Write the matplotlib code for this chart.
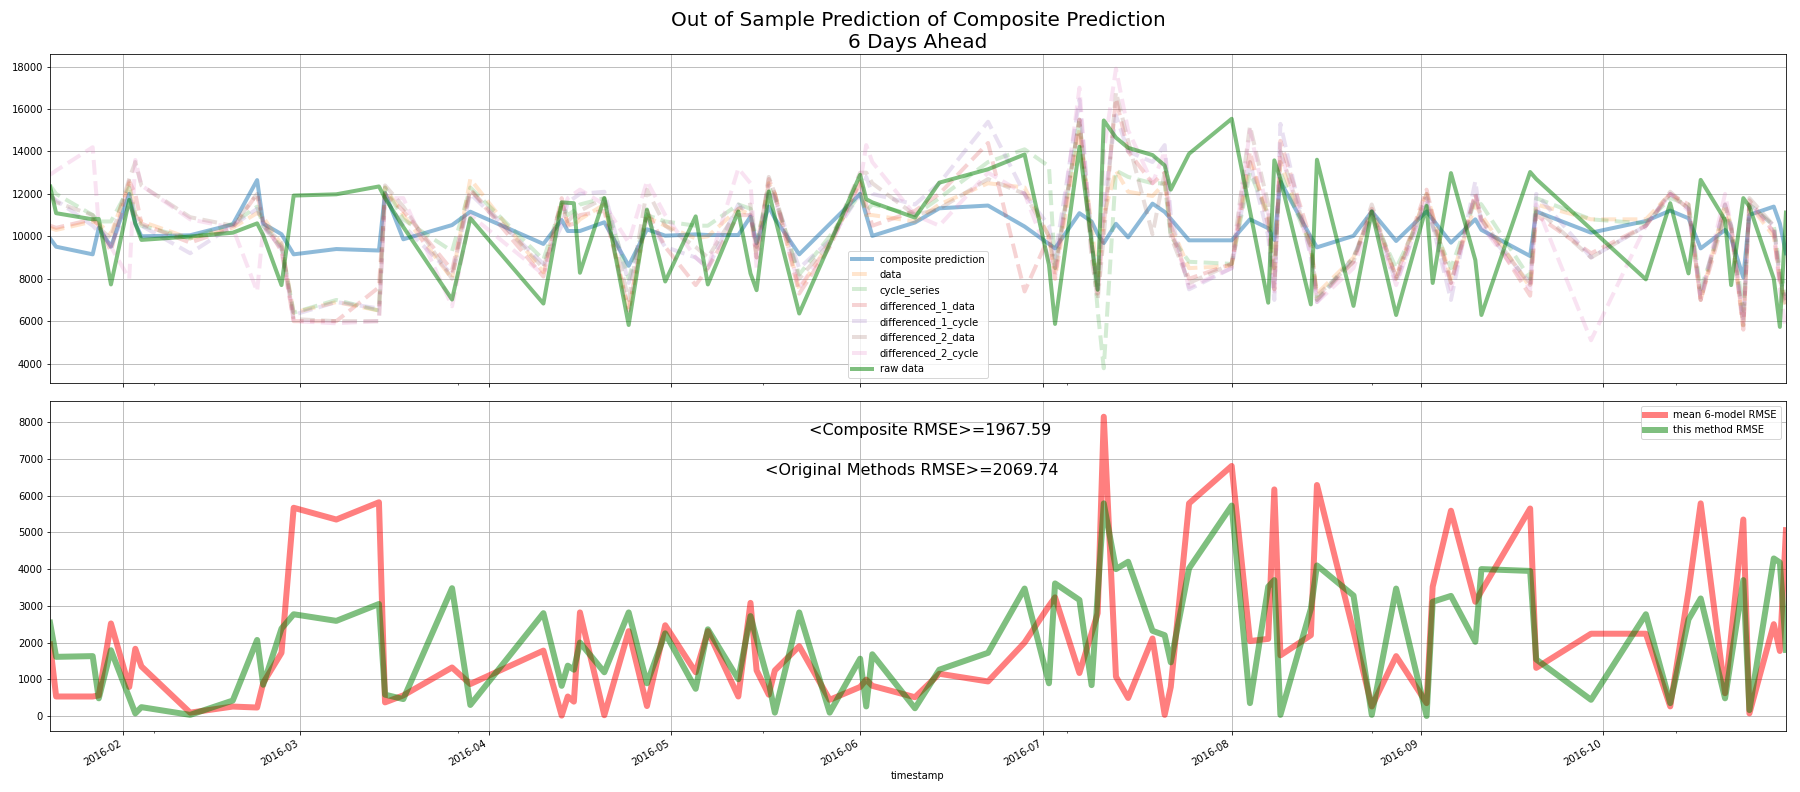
import matplotlib
matplotlib.use('Agg')
import matplotlib.pyplot as plt
import matplotlib.dates as mdates
import matplotlib.ticker as mticker
import pandas as pd

dates = ['2016-01-20', '2016-01-21', '2016-01-27', '2016-01-28', '2016-01-30', '2016-02-02', '2016-02-03',
         '2016-02-04', '2016-02-12', '2016-02-19', '2016-02-23', '2016-02-24', '2016-02-27', '2016-02-29',
         '2016-03-07', '2016-03-14', '2016-03-15', '2016-03-18', '2016-03-26', '2016-03-29', '2016-04-10',
         '2016-04-13', '2016-04-14', '2016-04-15', '2016-04-16', '2016-04-20', '2016-04-24', '2016-04-27',
         '2016-04-30', '2016-05-05', '2016-05-07', '2016-05-12', '2016-05-14', '2016-05-15', '2016-05-17',
         '2016-05-18', '2016-05-22', '2016-05-27', '2016-06-01', '2016-06-02', '2016-06-03', '2016-06-10',
         '2016-06-14', '2016-06-22', '2016-06-28', '2016-07-02', '2016-07-03', '2016-07-07', '2016-07-09',
         '2016-07-10', '2016-07-11', '2016-07-13', '2016-07-15', '2016-07-19', '2016-07-21', '2016-07-22',
         '2016-07-25', '2016-08-01', '2016-08-04', '2016-08-07', '2016-08-08', '2016-08-09', '2016-08-14',
         '2016-08-15', '2016-08-21', '2016-08-24', '2016-08-28', '2016-09-02', '2016-09-03', '2016-09-06',
         '2016-09-10', '2016-09-11', '2016-09-19', '2016-09-20', '2016-09-29', '2016-10-08', '2016-10-12',
         '2016-10-15', '2016-10-17', '2016-10-21', '2016-10-22', '2016-10-24', '2016-10-25', '2016-10-29',
         '2016-10-30', '2016-10-31']

composite_prediction = [9900, 9510, 9150, 10400, 9510, 12000, 10600, 10000, 10050, 10560, 12650, 10600, 10100, 9150,
                        9400, 9330, 12050, 9860, 10530, 11160, 9640, 10770, 10250, 10250, 10250, 10660, 8610, 10330,
                        10030, 10090, 10060, 10060, 10930, 9670, 11400, 10840, 9150, 10575, 12000, 11000, 10020, 10650,
                        11320, 11450, 10460, 9640, 9430, 11090, 10700, 10100, 9680, 10590, 9950, 11540, 11150, 10820,
                        9810, 9810, 10800, 10380, 9830, 12580, 9960, 9480, 10020, 11170, 9780, 11170, 10800, 9700,
                        10800, 10300, 9070, 11170, 10170, 10720, 11210, 10850, 9430, 10300, 9900, 8060, 11010, 11400,
                        10600, 9200]

raw_data = [12350, 11090, 10800, 10820, 7730, 11720, 10600, 9830, 9990, 10170, 10610, 10050, 7700, 11920,
            11980, 12350, 11800, 10440, 7020, 10850, 6830, 11600, 11580, 11560, 8280, 11800, 5820, 11260,
            7870, 10940, 7730, 11170, 8250, 7460, 12110, 10900, 6360, 9630, 12900, 11750, 11600, 10880,
            12530, 13160, 13860, 8660, 5870, 14220, 9700, 7480, 15460, 14650, 14170, 13830, 13340, 12200,
            13890, 15540, 11200, 6870, 13580, 12700, 6790, 13610, 6720, 11170, 6290, 11430, 7800, 12980,
            8880, 6290, 13030, 12700, 10340, 7970, 11560, 8250, 12660, 10770, 7700, 11800, 11400, 8000,
            5730, 11120]

data = [10400, 10300, 10700, 10600, 10100, 12500, 11000, 10700, 9900, 10400, 11100, 10900, 9600, 6400,
        6900, 6500, 12300, 11000, 8000, 12700, 8300, 11500, 10600, 10500, 10800, 11500, 6500, 10900,
        10500, 9900, 10000, 11300, 11000, 9500, 12500, 12000, 7500, 9700, 12500, 11000, 11000, 10700,
        11500, 12500, 12300, 10000, 8000, 15000, 10500, 8000, 11000, 13100, 12100, 11900, 12500, 10500,
        8500, 8600, 13500, 11000, 8500, 13500, 9500, 7300, 9000, 11200, 8000, 12000, 11000, 8000,
        11500, 11000, 7600, 11500, 10800, 10800, 12000, 11300, 7000, 11500, 10500, 5700, 11500, 10000,
        8000, 6500]

cycle_series = [12400, 12000, 11000, 10700, 10700, 12300, 11000, 10500, 9900, 10600, 11400, 10500, 9500, 6400,
                7000, 6500, 12300, 10800, 9300, 12300, 8900, 11500, 11000, 11200, 11500, 11800, 8000, 11000,
                10700, 10500, 10500, 11500, 11300, 9700, 12300, 11800, 8200, 10000, 12000, 11200, 11500, 11000,
                11800, 13500, 14100, 13300, 8500, 15500, 10000, 6500, 3780, 13100, 12800, 12500, 12500, 10000,
                8800, 8700, 13000, 11000, 8500, 13000, 9500, 7000, 9000, 11000, 8500, 11500, 10500, 8500,
                11700, 11500, 8000, 11800, 10800, 10600, 11800, 11500, 7500, 11000, 10500, 6500, 11500, 10500,
                8500, 7200]

differenced_1_data = [10500, 10400, 10800, 10500, 9300, 12600, 12000, 10600, 9700, 10400, 12000, 10700, 9300, 6000,
                      6000, 7600, 12000, 11200, 8400, 12200, 8100, 11800, 10500, 10600, 11000, 11200, 6500, 11200,
                      9500, 7700, 8500, 11000, 11000, 9000, 12700, 12000, 7300, 9500, 12600, 11500, 10500, 11200,
                      12000, 14400, 7400, 10000, 8200, 15500, 9500, 7300, 10500, 16500, 14000, 12500, 13000, 10200,
                      8000, 8700, 14000, 10500, 7500, 14500, 9800, 7000, 8800, 11300, 8100, 12200, 11000, 7800,
                      12000, 10800, 7200, 11000, 9200, 10500, 12000, 11500, 7000, 11000, 10300, 5600, 11700, 10200,
                      7800, 7000]

differenced_1_cycle = [11900, 11700, 10500, 10200, 9600, 11500, 11000, 10500, 9200, 10500, 11300, 10500, 9400, 6300,
                       6900, 6600, 11800, 10500, 8200, 12000, 8700, 10500, 11600, 11800, 12000, 12100, 7800, 10800,
                       9500, 9000, 8500, 11500, 11000, 9500, 12400, 11800, 8500, 9800, 12000, 12800, 12000, 11500,
                       12500, 15400, 12000, 10500, 9000, 16450, 9800, 7500, 11500, 15700, 14000, 13500, 14300, 11000,
                       7500, 8500, 13500, 10000, 7000, 15300, 9000, 6900, 9000, 11200, 7800, 11800, 10500, 7000,
                       12600, 10500, 7800, 12000, 9000, 10500, 12000, 11300, 7200, 11500, 10500, 6000, 11500, 10500,
                       8000, 7000]

differenced_2_data = [12000, 11600, 11000, 10400, 9900, 12700, 13500, 12400, 10900, 10500, 12000, 10500, 9700, 6100,
                      6000, 6000, 12400, 11400, 8000, 12200, 8500, 11600, 10700, 11000, 11200, 11800, 7000, 12200,
                      10500, 9500, 9000, 11300, 11500, 9000, 12800, 12000, 8000, 9700, 13000, 13000, 12500, 11000,
                      11300, 12700, 12000, 10000, 8500, 15500, 9000, 7000, 10000, 16800, 14500, 10100, 13000, 10000,
                      7800, 8700, 15200, 11500, 7500, 14000, 9500, 7200, 8800, 11500, 8000, 12000, 10800, 7800,
                      12000, 10800, 7700, 11300, 9000, 10500, 12100, 11300, 7000, 11500, 10400, 5800, 11800, 10500,
                      8000, 6800]

differenced_2_cycle = [12900, 13100, 14200, 10500, 9500, 8000, 13600, 12400, 10800, 10400, 7400, 10400, 9500, 6000,
                       5900, 6000, 11800, 11800, 6700, 11000, 8200, 11000, 11800, 12000, 12200, 11500, 9700, 12600,
                       11000, 9000, 8500, 13200, 12500, 8500, 12000, 11800, 7600, 9600, 12500, 14300, 13500, 11000,
                       10500, 13000, 12000, 9000, 8000, 17000, 9500, 7500, 14000, 17900, 15000, 12500, 14000, 10500,
                       7600, 8500, 15000, 11000, 7300, 14000, 9200, 6900, 8500, 11000, 7700, 11800, 10500, 7500,
                       12000, 10500, 7500, 11500, 5100, 10500, 12000, 11200, 7000, 12000, 10500, 5800, 11500, 10200,
                       7500, 5600]

mean_6_model_rmse = [1950, 530, 530, 560, 2520, 790, 1830, 1350, 90, 256, 230, 900, 1720, 5670,
                     5350, 5820, 370, 560, 1320, 870, 1780, 10, 530, 390, 2820, 20, 2310, 270,
                     2470, 1190, 2310, 530, 3080, 1240, 580, 1240, 1900, 440, 790, 990, 820, 510,
                     1150, 940, 2000, 3000, 3230, 1170, 2250, 2800, 8150, 1070, 490, 2110, 30, 790,
                     5790, 6810, 2040, 2100, 6170, 1650, 2200, 6290, 2300, 260, 1630, 350, 3520, 5590,
                     3110, 3400, 5650, 1310, 2240, 2240, 260, 3400, 5790, 620, 2200, 5350, 70, 2500,
                     1770, 5060]

this_method_rmse = [2540, 1610, 1630, 480, 1790, 500, 70, 240, 30, 420, 2070, 850, 2380, 2770,
                    2590, 3050, 580, 460, 3480, 300, 2800, 820, 1370, 1260, 2000, 1190, 2820, 890,
                    2250, 740, 2360, 1000, 2720, 2100, 900, 90, 2820, 90, 1560, 260, 1680, 210,
                    1260, 1720, 3470, 890, 3610, 3160, 840, 3300, 5790, 4000, 4200, 2320, 2200, 1460,
                    4020, 5730, 350, 3520, 3700, 30, 2920, 4100, 3280, 30, 3470, 0, 3110, 3270,
                    2020, 4000, 3950, 1540, 440, 2770, 350, 2630, 3200, 480, 1550, 3700, 160, 4290,
                    4180, 1800]

model_names = ['data', 'cycle_series', 'differenced_1_data', 'differenced_1_cycle',
               'differenced_2_data', 'differenced_2_cycle']
model_series = [data, cycle_series, differenced_1_data, differenced_1_cycle,
                differenced_2_data, differenced_2_cycle]
minor_tick_dates = ['2016-02-06', '2016-03-27', '2016-05-16', '2016-07-05', '2016-08-24', '2016-10-13']

x = pd.to_datetime(dates)

fig = plt.figure(figsize=(25, 11), dpi=72)
ax1 = fig.add_axes([0.0278, 0.516, 0.9644, 0.416])
ax2 = fig.add_axes([0.0278, 0.077, 0.9644, 0.4163], sharex=ax1)

ax1.plot(x, composite_prediction, color='C0', lw=4, alpha=0.5, label='composite prediction')
for i, (name, s) in enumerate(zip(model_names, model_series)):
    ax1.plot(x, s, '--', color='C%d' % (i + 1), lw=4, alpha=0.2, label=name)
ax1.plot(x, raw_data, color='green', lw=4, alpha=0.5, label='raw data')
ax1.legend(loc='lower center', fontsize=10)
ax1.set_ylim(3070, 18600)
ax1.set_yticks(range(4000, 18001, 2000))
ax1.grid(True)
ax1.set_title('Out of Sample Prediction of Composite Prediction\n6 Days Ahead', fontsize=20)

ax2.plot(x, mean_6_model_rmse, color='red', lw=6, alpha=0.5, label='mean 6-model RMSE')
ax2.plot(x, this_method_rmse, color='green', lw=6, alpha=0.5, label='this method RMSE')
ax2.legend(loc='upper right', fontsize=10)
ax2.set_ylim(-410, 8570)
ax2.set_yticks(range(0, 8001, 1000))
ax2.grid(True)
ax2.text(0.507, 0.912, '<Composite RMSE>=1967.59', transform=ax2.transAxes,
         ha='center', va='center', fontsize=16)
ax2.text(0.4965, 0.791, '<Original Methods RMSE>=2069.74', transform=ax2.transAxes,
         ha='center', va='center', fontsize=16)
ax2.set_xlabel('timestamp')

ax2.set_xlim(x[0], x[-1])
ax2.xaxis.set_major_locator(mdates.MonthLocator())
ax2.xaxis.set_major_formatter(mdates.DateFormatter('%Y-%m'))
ax2.xaxis.set_minor_locator(mticker.FixedLocator(mdates.date2num(pd.to_datetime(minor_tick_dates))))
ax1.tick_params(labelbottom=False)
for lbl in ax2.get_xticklabels():
    lbl.set_rotation(30)
    lbl.set_ha('right')

fig.savefig('out.png', dpi=72)
